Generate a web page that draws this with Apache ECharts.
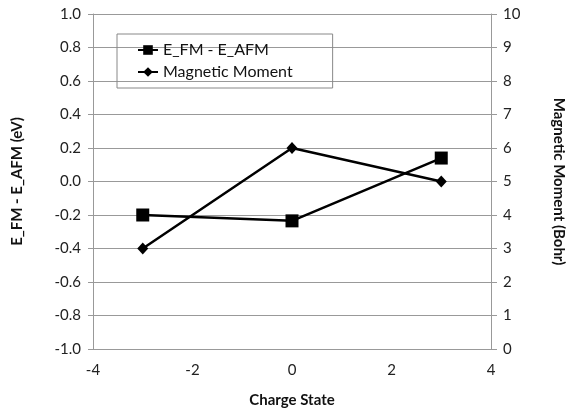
<!DOCTYPE html>
<html><head><meta charset="utf-8">
<script src="https://cdn.jsdelivr.net/npm/echarts@6/dist/echarts.min.js"></script>
<style>html,body{margin:0;padding:0;background:#fff}#c{width:577px;height:413px}</style>
</head><body><div id="c"></div>
<script>
const chargeStates = [-3, 0, 3];
const energyDiff = [-0.20, -0.235, 0.14];
const magMoment = [3, 6, 5];
const seriesNames = ['E_FM - E_AFM', 'Magnetic Moment'];
const xTitle = 'Charge State';
const yLeftTitle = 'E_FM - E_AFM (eV)';
const yRightTitle = 'Magnetic Moment (Bohr)';

const font = 'Lato, "Open Sans", sans-serif';
const chart = echarts.init(document.getElementById('c'));
chart.setOption({
  animation: false,
  backgroundColor: '#fff',
  grid: {left: 93, right: 86, top: 14, bottom: 64},
  legend: {
    orient: 'vertical', left: 117, top: 34,
    data: seriesNames,
    itemWidth: 20, itemHeight: 12, itemGap: 6,
    borderColor: '#888', borderWidth: 1, padding: [8, 40, 8, 20],
    textStyle: {fontFamily: font, fontSize: 16, color: '#111'}
  },
  xAxis: {
    type: 'value', min: -4, max: 4, interval: 2,
    name: xTitle, nameLocation: 'middle', nameGap: 44,
    nameTextStyle: {fontFamily: font, fontSize: 15, fontWeight: 'bold', color: '#111'},
    axisLine: {show: true, onZero: false, lineStyle: {color: '#999'}},
    axisTick: {show: false},
    splitLine: {show: false},
    axisLabel: {fontFamily: font, fontSize: 15, color: '#222', margin: 14}
  },
  yAxis: [{
    type: 'value', min: -1, max: 1, interval: 0.2,
    name: yLeftTitle, nameLocation: 'middle', nameGap: 68,
    nameTextStyle: {fontFamily: font, fontSize: 15, fontWeight: 'bold', color: '#111'},
    axisLine: {show: true, onZero: false, lineStyle: {color: '#999'}},
    axisTick: {show: true, length: 5, lineStyle: {color: '#999'}},
    splitLine: {show: true, lineStyle: {color: '#999', width: 1}},
    axisLabel: {fontFamily: font, fontSize: 15, color: '#222', margin: 12,
      formatter: v => v.toFixed(1)}
  }, {
    type: 'value', min: 0, max: 10, interval: 1, position: 'right',
    name: yRightTitle, nameLocation: 'middle', nameGap: 60, nameRotate: -90,
    nameTextStyle: {fontFamily: font, fontSize: 15, fontWeight: 'bold', color: '#111'},
    axisLine: {show: true, onZero: false, lineStyle: {color: '#999'}},
    axisTick: {show: true, length: 6, lineStyle: {color: '#999'}},
    splitLine: {show: false},
    axisLabel: {fontFamily: font, fontSize: 15, color: '#222', margin: 12}
  }],
  series: [{
    name: seriesNames[0], type: 'line', yAxisIndex: 0,
    data: chargeStates.map((x, i) => [x, energyDiff[i]]),
    symbol: 'rect', symbolSize: 13,
    itemStyle: {color: '#000'}, lineStyle: {color: '#000', width: 2.5}
  }, {
    name: seriesNames[1], type: 'line', yAxisIndex: 1,
    data: chargeStates.map((x, i) => [x, magMoment[i]]),
    symbol: 'diamond', symbolSize: [11, 12],
    itemStyle: {color: '#000'}, lineStyle: {color: '#000', width: 2.5}
  }]
});
</script></body></html>
